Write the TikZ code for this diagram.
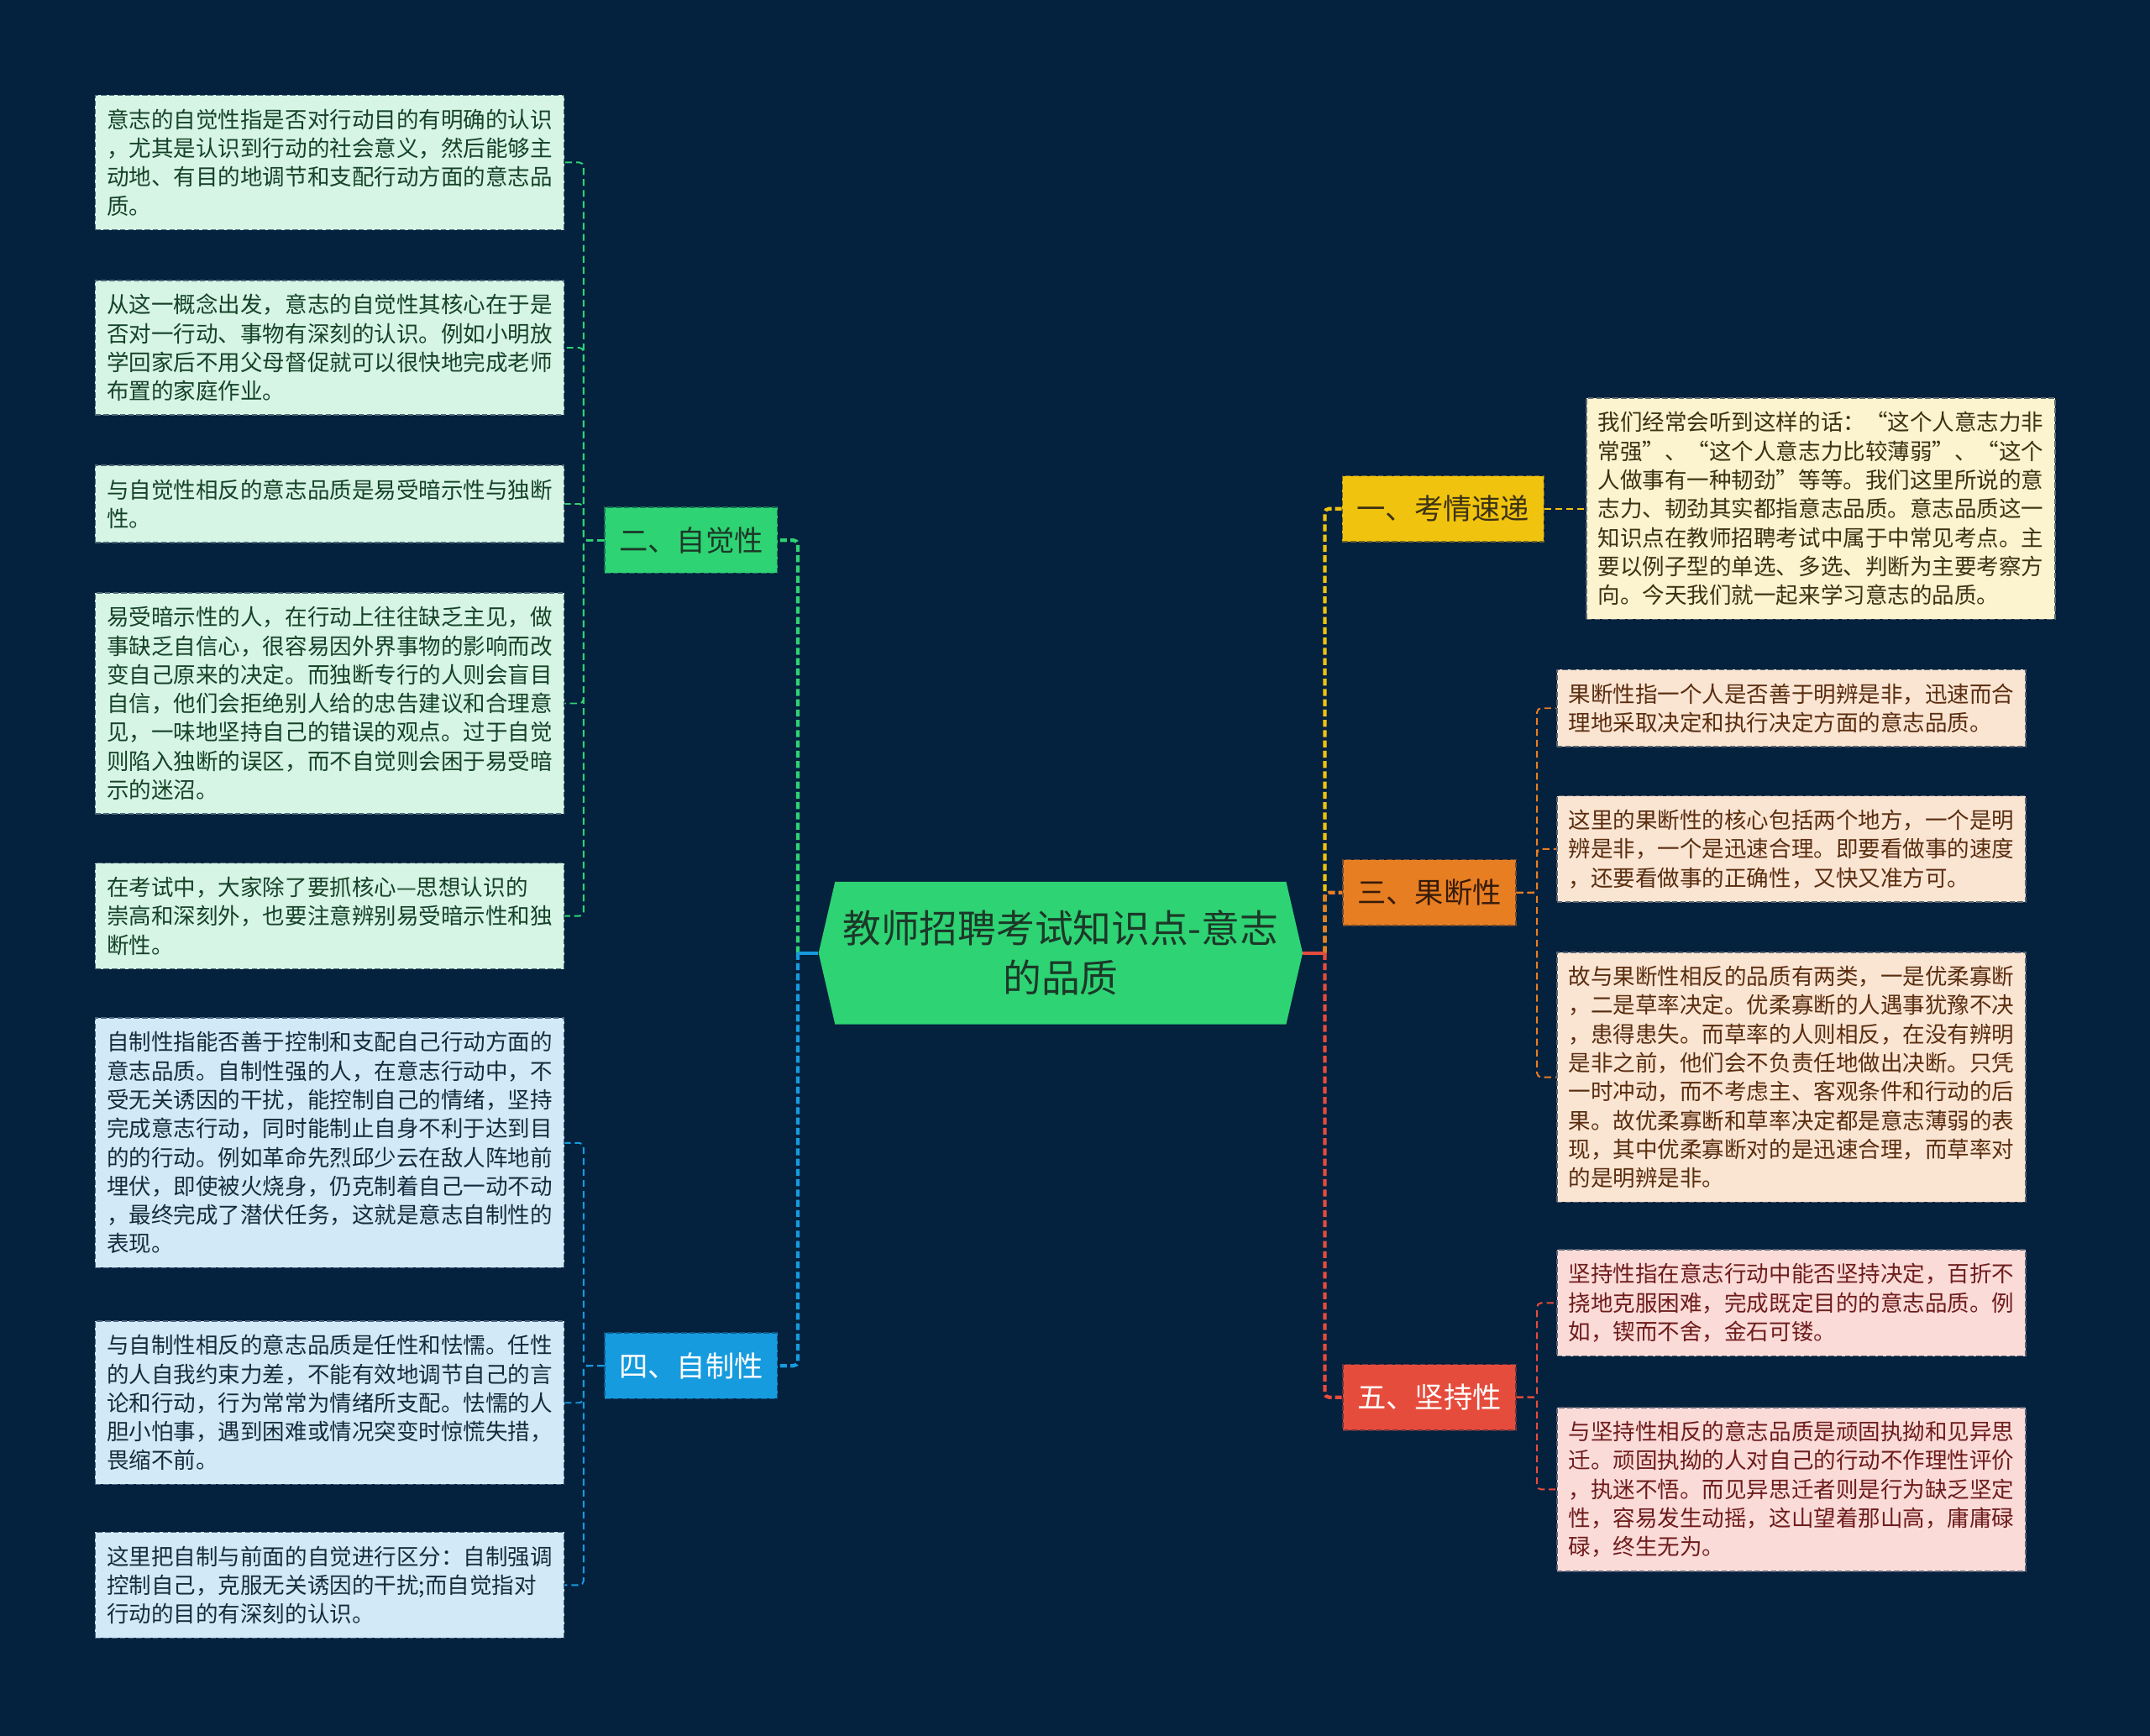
\documentclass[tikz,border=0pt]{standalone}
\usepackage{fontspec}
\setmainfont{Noto Sans CJK SC}
\usepackage{tikz}
\usetikzlibrary{positioning}

\definecolor{bgnavy}{RGB}{4,33,62}
\definecolor{cgreen}{RGB}{46,211,115}
\definecolor{cblue}{RGB}{22,155,222}
\definecolor{cyellow}{RGB}{240,195,15}
\definecolor{corange}{RGB}{232,126,34}
\definecolor{cred}{RGB}{230,76,60}
\definecolor{fgreen}{RGB}{214,245,228}
\definecolor{fblue}{RGB}{210,234,248}
\definecolor{fyellow}{RGB}{252,243,207}
\definecolor{fpeach}{RGB}{250,229,211}
\definecolor{fpink}{RGB}{250,219,216}
\definecolor{inkgreen}{RGB}{22,66,40}
\definecolor{inkblue}{RGB}{22,44,62}
\definecolor{inkyellow}{RGB}{60,50,20}
\definecolor{inkpeach}{RGB}{90,45,15}
\definecolor{inkpink}{RGB}{110,28,28}
\definecolor{inkroot}{RGB}{28,56,40}

\begin{document}
\begin{tikzpicture}[x=1pt, y=-1pt,
  leaf/.style={draw=#1!35!bgnavy, fill=#1, dash pattern=on 4pt off 2pt, line width=0.9pt,
               anchor=north west, text width=325pt, inner xsep=8.5pt, inner ysep=10pt,
               align=left, font=\fontsize{16.25pt}{21pt}\selectfont},
  branch/.style={draw=#1!45!bgnavy, fill=#1, dash pattern=on 4pt off 2pt, line width=0.9pt,
                 minimum height=48pt, inner xsep=10.5pt, font=\fontsize{21pt}{25pt}\selectfont},
  stub/.style={draw=#1, line width=2.6pt},
  trunk/.style={draw=#1, line width=2.6pt, dash pattern=on 5pt off 2.5pt, rounded corners=3pt},
  twig/.style={draw=#1, line width=1.2pt, dash pattern=on 5pt off 3pt, rounded corners=3pt}]
\useasboundingbox (0,0) rectangle (1568,1266);
\fill[bgnavy] (0,0) rectangle (1568,1266);

\fill[cgreen] (597,695) -- (609,643) -- (938,643) -- (950,695) -- (938,747) -- (609,747) -- cycle;
\node[minimum width=353pt, minimum height=104pt, inner sep=0pt, align=center, text=inkroot,
      font=\fontsize{28pt}{36pt}\selectfont] (root) at (773.5,695) {教师招聘考试知识点-意志\\的品质};
\coordinate[left=15pt of root.west] (ltrunk);
\coordinate[right=16pt of root.east] (rtrunk);

\node[branch=cgreen, text=inkroot] (zijue) at (504,394) {二、自觉性};
\node[branch=cblue, text=white] (zizhi) at (504,996) {四、自制性};
\node[branch=cyellow, text=inkyellow] (kaoqing) at (1052.5,371) {一、考情速递};
\node[branch=corange, text=inkpeach!60!black] (guoduan) at (1042.5,651) {三、果断性};
\node[branch=cred, text=white] (jianchi) at (1042.5,1019) {五、坚持性};

\node[leaf=fgreen, text=inkgreen] (zj1) at (69,69) {意志的自觉性指是否对行动目的有明确的认识\\，尤其是认识到行动的社会意义，然后能够主\\动地、有目的地调节和支配行动方面的意志品\\质。};
\node[leaf=fgreen, text=inkgreen] (zj2) at (69,204) {从这一概念出发，意志的自觉性其核心在于是\\否对一行动、事物有深刻的认识。例如小明放\\学回家后不用父母督促就可以很快地完成老师\\布置的家庭作业。};
\node[leaf=fgreen, text=inkgreen] (zj3) at (69,339) {与自觉性相反的意志品质是易受暗示性与独断\\性。};
\node[leaf=fgreen, text=inkgreen] (zj4) at (69,432) {易受暗示性的人，在行动上往往缺乏主见，做\\事缺乏自信心，很容易因外界事物的影响而改\\变自己原来的决定。而独断专行的人则会盲目\\自信，他们会拒绝别人给的忠告建议和合理意\\见，一味地坚持自己的错误的观点。过于自觉\\则陷入独断的误区，而不自觉则会困于易受暗\\示的迷沼。};
\node[leaf=fgreen, text=inkgreen] (zj5) at (69,629) {在考试中，大家除了要抓核心—思想认识的\\崇高和深刻外，也要注意辨别易受暗示性和独\\断性。};

\node[leaf=fblue, text=inkblue] (zz1) at (69,742) {自制性指能否善于控制和支配自己行动方面的\\意志品质。自制性强的人，在意志行动中，不\\受无关诱因的干扰，能控制自己的情绪，坚持\\完成意志行动，同时能制止自身不利于达到目\\的的行动。例如革命先烈邱少云在敌人阵地前\\埋伏，即使被火烧身，仍克制着自己一动不动\\，最终完成了潜伏任务，这就是意志自制性的\\表现。};
\node[leaf=fblue, text=inkblue] (zz2) at (69,963) {与自制性相反的意志品质是任性和怯懦。任性\\的人自我约束力差，不能有效地调节自己的言\\论和行动，行为常常为情绪所支配。怯懦的人\\胆小怕事，遇到困难或情况突变时惊慌失措，\\畏缩不前。};
\node[leaf=fblue, text=inkblue] (zz3) at (69,1117) {这里把自制与前面的自觉进行区分：自制强调\\控制自己，克服无关诱因的干扰;而自觉指对\\行动的目的有深刻的认识。};

\node[leaf=fyellow, text=inkyellow, right=30pt of kaoqing] (kq1) {我们经常会听到这样的话：“这个人意志力非\\常强”、“这个人意志力比较薄弱”、“这个\\人做事有一种韧劲”等等。我们这里所说的意\\志力、韧劲其实都指意志品质。意志品质这一\\知识点在教师招聘考试中属于中常见考点。主\\要以例子型的单选、多选、判断为主要考察方\\向。今天我们就一起来学习意志的品质。};

\node[leaf=fpeach, text=inkpeach] (gd1) at (1135,488) {果断性指一个人是否善于明辨是非，迅速而合\\理地采取决定和执行决定方面的意志品质。};
\node[leaf=fpeach, text=inkpeach] (gd2) at (1135,580) {这里的果断性的核心包括两个地方，一个是明\\辨是非，一个是迅速合理。即要看做事的速度\\，还要看做事的正确性，又快又准方可。};
\node[leaf=fpeach, text=inkpeach] (gd3) at (1135,694) {故与果断性相反的品质有两类，一是优柔寡断\\，二是草率决定。优柔寡断的人遇事犹豫不决\\，患得患失。而草率的人则相反，在没有辨明\\是非之前，他们会不负责任地做出决断。只凭\\一时冲动，而不考虑主、客观条件和行动的后\\果。故优柔寡断和草率决定都是意志薄弱的表\\现，其中优柔寡断对的是迅速合理，而草率对\\的是明辨是非。};

\node[leaf=fpink, text=inkpink] (jc1) at (1135,911) {坚持性指在意志行动中能否坚持决定，百折不\\挠地克服困难，完成既定目的的意志品质。例\\如，锲而不舍，金石可镂。};
\node[leaf=fpink, text=inkpink] (jc2) at (1135,1026) {与坚持性相反的意志品质是顽固执拗和见异思\\迁。顽固执拗的人对自己的行动不作理性评价\\，执迷不悟。而见异思迁者则是行为缺乏坚定\\性，容易发生动摇，这山望着那山高，庸庸碌\\碌，终生无为。};

\draw[trunk=cgreen] (ltrunk) |- (zijue.east);
\draw[trunk=cblue] (ltrunk) |- (zizhi.east);
\draw[stub=cblue] (root.west) -- (ltrunk);
\draw[trunk=cyellow] (rtrunk) |- (kaoqing.west);
\draw[trunk=corange] (rtrunk) |- (guoduan.west);
\draw[trunk=cred] (rtrunk) |- (jianchi.west);
\draw[stub=cred] (root.east) -- (rtrunk);

\draw[twig=cgreen] (zijue.west) -- ++(-15,0) |- (zj1.east); \draw[twig=cgreen] (zijue.west) -- ++(-15,0) |- (zj2.east);
\draw[twig=cgreen] (zijue.west) -- ++(-15,0) |- (zj3.east); \draw[twig=cgreen] (zijue.west) -- ++(-15,0) |- (zj4.east);
\draw[twig=cgreen] (zijue.west) -- ++(-15,0) |- (zj5.east);
\draw[twig=cblue] (zizhi.west) -- ++(-15,0) |- (zz1.east); \draw[twig=cblue] (zizhi.west) -- ++(-15,0) |- (zz2.east);
\draw[twig=cblue] (zizhi.west) -- ++(-15,0) |- (zz3.east);
\draw[twig=cyellow] (kaoqing) -- (kq1);
\draw[twig=corange] (guoduan.east) -- ++(15,0) |- (gd1.west); \draw[twig=corange] (guoduan.east) -- ++(15,0) |- (gd2.west);
\draw[twig=corange] (guoduan.east) -- ++(15,0) |- (gd3.west);
\draw[twig=cred] (jianchi.east) -- ++(15,0) |- (jc1.west); \draw[twig=cred] (jianchi.east) -- ++(15,0) |- (jc2.west);
\end{tikzpicture}
\end{document}
